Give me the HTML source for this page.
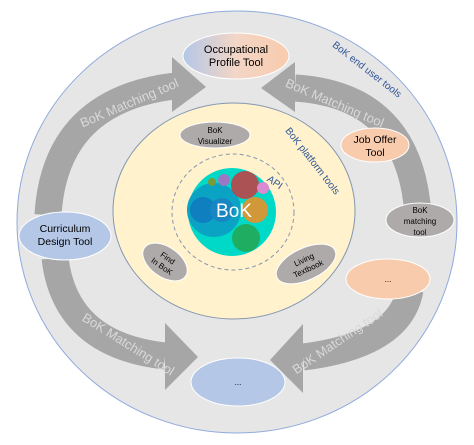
<!DOCTYPE html>
<html><head><style>body{margin:0;background:#fff}svg{display:block}</style></head><body>
<svg width="474" height="445" viewBox="0 0 474 445" font-family="Liberation Sans, sans-serif">
<defs><linearGradient id="g1" x1="0" x2="1"><stop offset="0" stop-color="#b4c7e7"/><stop offset="0.5" stop-color="#f3d6c6"/><stop offset="1" stop-color="#f8cbad"/></linearGradient></defs>
<ellipse cx="237" cy="222" rx="220" ry="211" fill="#e7e6e6" stroke="#8faadc" stroke-width="1"/>
<g fill="none" stroke="#a6a6a6" stroke-width="27">
<path d="M48 215 Q55 100 175 86"/>
<path d="M295 88 Q410 95 418 215"/>
<path d="M55 258 Q65 345 165 356"/>
<path d="M303 357 Q400 345 410 290"/>
</g>
<g fill="#a6a6a6">
<polygon points="172,57 206,87 172,112"/>
<polygon points="295,62 261,88 295,112"/>
<polygon points="165,323 198,357 165,390"/>
<polygon points="303,324 270,360 303,393"/>
</g>
<g fill="#d9d9d9" font-size="13" text-anchor="middle">
<text transform="translate(131,107) rotate(-23)">BoK Matching tool</text>
<text transform="translate(333,107) rotate(23)">BoK Matching tool</text>
<text transform="translate(126,348) rotate(32)">BoK Matching tool</text>
<text transform="translate(340,345) rotate(-34)">BoK Matching tool</text>
</g>
<text transform="translate(365,72) rotate(38)" fill="#2f5597" font-size="10" text-anchor="middle">BoK end user tools</text>
<ellipse cx="234" cy="211" rx="121" ry="108" fill="#fff2cc" stroke="#8497b0" stroke-width="1"/>
<text transform="translate(310,163) rotate(52)" fill="#2f5597" font-size="10" text-anchor="middle">BoK platform tools</text>
<ellipse cx="233" cy="212" rx="61" ry="58" fill="none" stroke="#8497b0" stroke-dasharray="4,3"/>
<text transform="translate(273,185) rotate(35)" fill="#2f5597" font-size="10" text-anchor="middle">API</text>
<circle cx="232" cy="212" r="44" fill="#00d9c8"/>
<circle cx="214" cy="210" r="27" fill="#0aa3c4"/>
<circle cx="203" cy="210" r="13" fill="#0f7fc0"/>
<circle cx="222" cy="210" r="12" fill="#1786c2"/>
<circle cx="245" cy="185" r="14" fill="#c83a40" opacity="0.85"/>
<circle cx="255" cy="210" r="13" fill="#e8902a" opacity="0.9"/>
<circle cx="246" cy="238" r="14" fill="#22a855" opacity="0.9"/>
<circle cx="224" cy="180" r="6" fill="#9b78c4"/>
<circle cx="263" cy="188" r="6" fill="#d98ad0"/>
<circle cx="212" cy="182" r="4" fill="#7a9a3a"/>
<text x="234" y="217" fill="#fff" font-size="19" text-anchor="middle">BoK</text>
<ellipse cx="236" cy="56" rx="53" ry="23" fill="url(#g1)" stroke="#fff"/>
<text x="236" y="53" font-size="11" text-anchor="middle">Occupational</text>
<text x="236" y="66" font-size="11" text-anchor="middle">Profile  Tool</text>
<ellipse cx="215" cy="135" rx="35" ry="13" fill="#aeaaaa" stroke="#fff"/>
<text x="215" y="133" font-size="8" text-anchor="middle">BoK</text>
<text x="215" y="144" font-size="8" text-anchor="middle">Visualizer</text>
<ellipse cx="375" cy="145" rx="34" ry="17" fill="#f8cbad" stroke="#fff"/>
<text x="375" y="143" font-size="10.5" text-anchor="middle">Job Offer</text>
<text x="375" y="156" font-size="10.5" text-anchor="middle">Tool</text>
<ellipse cx="420" cy="220" rx="34" ry="17" fill="#aeaaaa" stroke="#fff"/>
<text x="420" y="213" font-size="8" text-anchor="middle">BoK</text>
<text x="420" y="224" font-size="8" text-anchor="middle">matching</text>
<text x="420" y="235" font-size="8" text-anchor="middle">tool</text>
<ellipse cx="65" cy="236" rx="46" ry="24" fill="#b4c7e7" stroke="#fff"/>
<text x="65" y="232" font-size="10.5" text-anchor="middle">Curriculum</text>
<text x="65" y="245" font-size="10.5" text-anchor="middle">Design Tool</text>
<g transform="translate(165,262) rotate(35)"><ellipse rx="25" ry="15" fill="#aeaaaa" stroke="#fff"/>
<text y="-2" font-size="8" text-anchor="middle">Find</text><text y="8" font-size="8" text-anchor="middle">In BoK</text></g>
<g transform="translate(306,264) rotate(-25)"><ellipse rx="32" ry="16" fill="#aeaaaa" stroke="#fff"/>
<text y="-2" font-size="8" text-anchor="middle">Living</text><text y="8" font-size="8" text-anchor="middle">Textbook</text></g>
<ellipse cx="388" cy="279" rx="42" ry="20" fill="#f8cbad" stroke="#fff"/>
<text x="388" y="282" font-size="8" text-anchor="middle">...</text>
<ellipse cx="238" cy="382" rx="47" ry="24" fill="#b4c7e7" stroke="#fff"/>
<text x="238" y="385" font-size="8" text-anchor="middle">...</text>
</svg>
</body></html>
